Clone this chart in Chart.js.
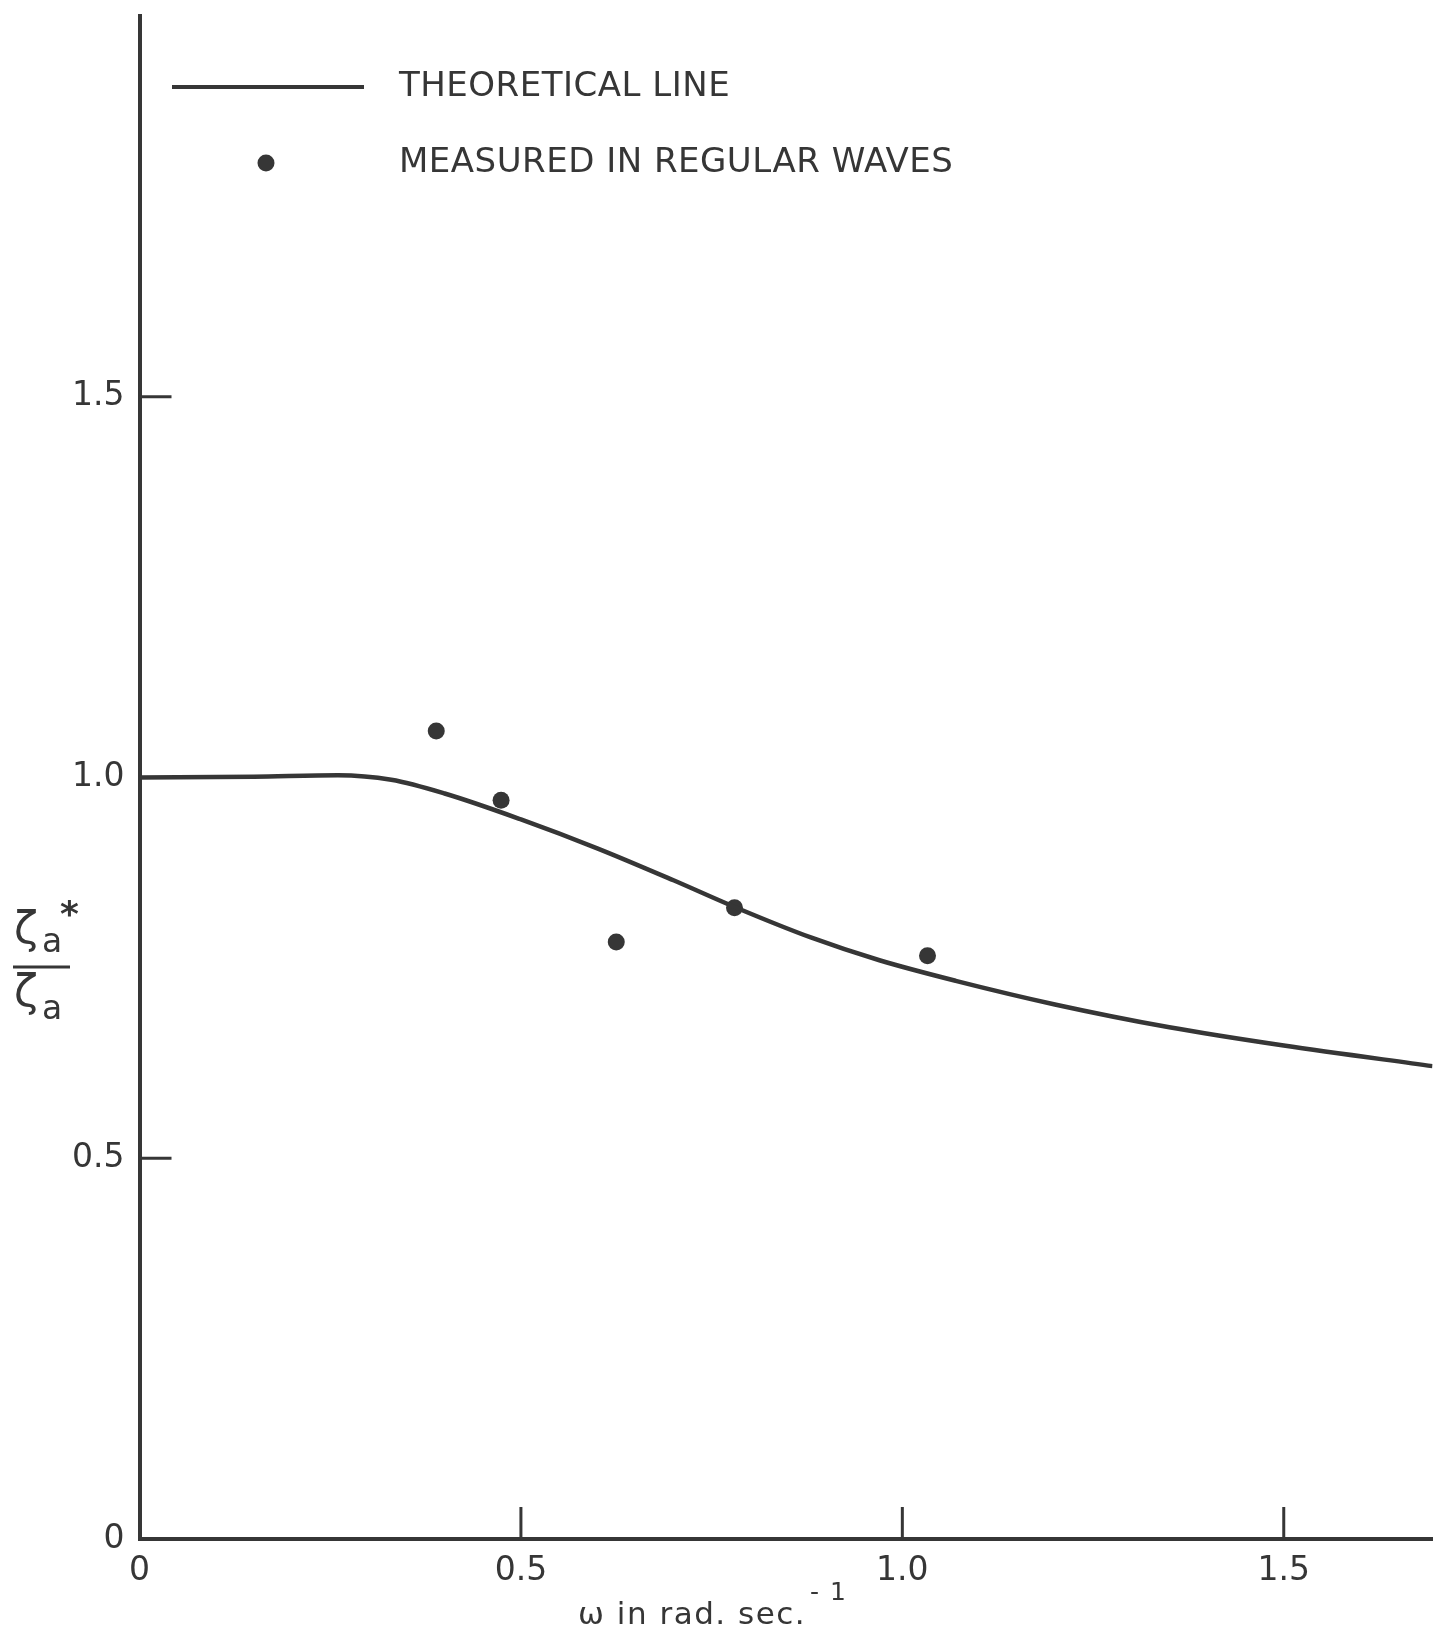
<!DOCTYPE html>
<html>
<head>
<meta charset="utf-8">
<script src="https://cdn.jsdelivr.net/npm/chart.js@4/dist/chart.umd.min.js"></script>
<style>
  body { margin: 0; background: #fff; }
  canvas { display: block; }
</style>
</head>
<body>
<canvas id="myChart" width="1441" height="1633"></canvas>
<script>
// theoretical line
var omegaLine = [0, 0.15, 0.26, 0.33, 0.40, 0.50, 0.60, 0.70, 0.78, 0.88, 0.97, 1.07, 1.20, 1.35, 1.50, 1.695];
var ratioLine = [1.0, 1.001, 1.003, 0.997, 0.979, 0.945, 0.907, 0.865, 0.830, 0.790, 0.760, 0.733, 0.702, 0.672, 0.648, 0.621];

// measured in regular waves
var omegaMeas = [0.389, 0.474, 0.625, 0.780, 1.033];
var ratioMeas = [1.061, 0.970, 0.784, 0.829, 0.766];

var xTicks = [0, 0.5, 1.0, 1.5];
var xTickLabels = ["0", "0.5", "1.0", "1.5"];
var yTicks = [0, 0.5, 1.0, 1.5];
var yTickLabels = ["0", "0.5", "1.0", "1.5"];

var ink = '#363636';
var font = '"DejaVu Sans", sans-serif';

function pts(xs, ys) {
    return xs.map(function (x, i) { return { x: x, y: ys[i] }; });
}

// inward ticks, fraction label, axis title and legend
var extras = {
    id: 'extras',
    afterDraw: function (chart) {
        var c = chart.ctx, xs = chart.scales.x, ys = chart.scales.y;
        var area = chart.chartArea;
        c.save();
        c.strokeStyle = ink;
        c.lineWidth = 3;
        xTicks.forEach(function (v) {
            if (v === 0) return;
            var px = xs.getPixelForValue(v);
            c.beginPath(); c.moveTo(px, area.bottom); c.lineTo(px, area.bottom - 32); c.stroke();
        });
        yTicks.forEach(function (v) {
            if (v === 0) return;
            var py = ys.getPixelForValue(v);
            c.beginPath(); c.moveTo(area.left, py); c.lineTo(area.left + 32, py); c.stroke();
        });

        c.fillStyle = ink;
        c.textBaseline = 'alphabetic';
        c.textAlign = 'left';

        // y label: zeta_a* / zeta_a
        c.font = '44px ' + font;
        c.fillText('ζ', 14, 943);
        c.font = '33px ' + font;
        c.fillText('a', 42, 952);
        c.font = 'bold 36px ' + font;
        c.fillText('*', 60, 926);
        c.lineWidth = 3;
        c.beginPath(); c.moveTo(13, 967); c.lineTo(70, 967); c.stroke();
        c.font = '44px ' + font;
        c.fillText('ζ', 14, 1006);
        c.font = '33px ' + font;
        c.fillText('a', 42, 1019);

        // x axis title
        c.font = '31px ' + font;
        c.letterSpacing = '1.5px';
        c.fillText('ω in rad. sec.', 578, 1624);
        c.font = '25px ' + font;
        c.fillText('- 1', 810, 1600);
        c.letterSpacing = '0px';

        // legend
        var lineSet = chart.data.datasets[0], dotSet = chart.data.datasets[1];
        c.strokeStyle = lineSet.borderColor;
        c.lineWidth = 4;
        c.beginPath(); c.moveTo(172, 87); c.lineTo(364, 87); c.stroke();
        c.beginPath();
        c.arc(266, 163, 8.5, 0, Math.PI * 2);
        c.fillStyle = dotSet.backgroundColor;
        c.fill();
        c.fillStyle = ink;
        c.font = '34px ' + font;
        c.letterSpacing = '0.5px';
        c.fillText(lineSet.label, 399, 96);
        c.fillText(dotSet.label, 399, 172);
        c.restore();
    }
};

var ctx = document.getElementById('myChart').getContext('2d');
var chart = new Chart(ctx, {
    type: 'scatter',
    data: {
        datasets: [{
            label: 'THEORETICAL LINE',
            data: pts(omegaLine, ratioLine),
            showLine: true,
            borderColor: ink,
            borderWidth: 4.5,
            pointRadius: 0,
            cubicInterpolationMode: 'monotone',
            fill: false
        },
        {
            label: 'MEASURED IN REGULAR WAVES',
            data: pts(omegaMeas, ratioMeas),
            showLine: false,
            backgroundColor: ink,
            borderColor: ink,
            pointRadius: 8.5,
            pointBorderWidth: 0
        }]
    },
    options: {
        responsive: false,
        animation: false,
        devicePixelRatio: 1,
        layout: { padding: { top: 16, right: 4, left: 0, bottom: 0 } },
        plugins: { legend: { display: false }, tooltip: { enabled: false } },
        scales: {
            x: {
                type: 'linear',
                min: 0, max: 1.695,
                afterFit: function (s) { s.height = 94; s.paddingLeft = 0; s.paddingRight = 0; },
                afterBuildTicks: function (s) { s.ticks = xTicks.map(function (v) { return { value: v }; }); },
                grid: { display: true, drawOnChartArea: false, drawTicks: false },
                border: { display: true, color: ink, width: 4 },
                ticks: {
                    padding: 13,
                    color: ink,
                    font: { family: font, size: 33 },
                    callback: function (v) { return xTickLabels[xTicks.indexOf(v)]; }
                }
            },
            y: {
                type: 'linear',
                min: 0, max: 2.0,
                afterFit: function (s) { s.width = 139.5; s.paddingTop = 0; s.paddingBottom = 0; },
                afterBuildTicks: function (s) { s.ticks = yTicks.map(function (v) { return { value: v }; }); },
                grid: { display: true, drawOnChartArea: false, drawTicks: false },
                border: { display: true, color: ink, width: 4 },
                ticks: {
                    padding: 15,
                    color: ink,
                    font: { family: font, size: 33 },
                    callback: function (v) { return yTickLabels[yTicks.indexOf(v)]; }
                }
            }
        }
    },
    plugins: [extras]
});
</script>
</body>
</html>
